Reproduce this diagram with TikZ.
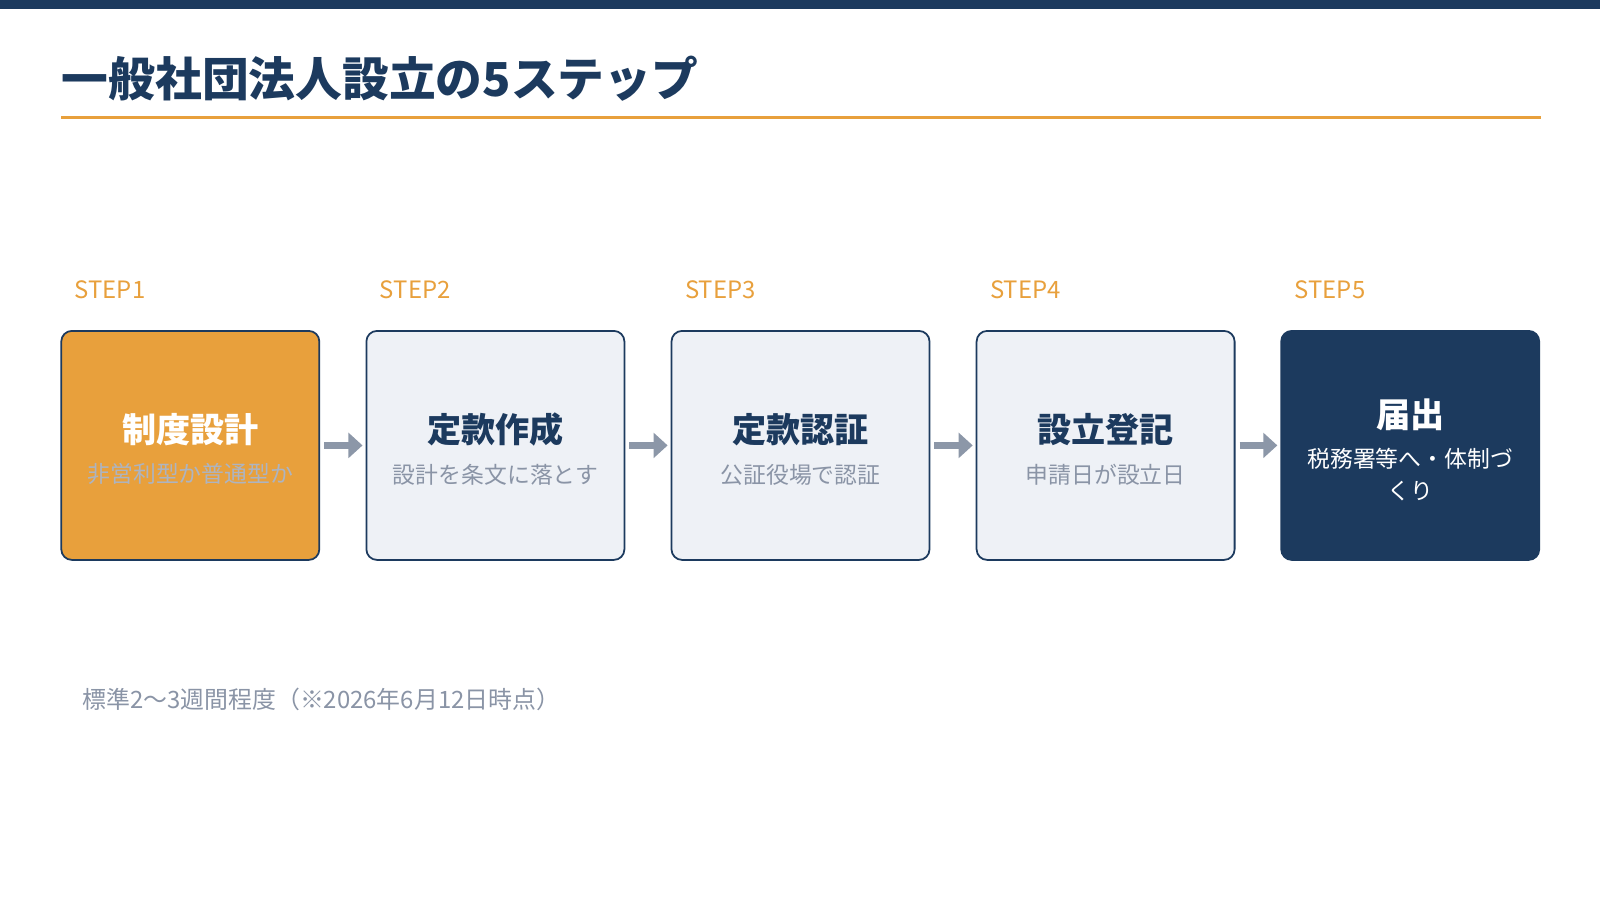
\documentclass[tikz,border=0pt]{standalone}
\usepackage{fontspec}
\setmainfont{Noto Sans CJK JP}
\usetikzlibrary{positioning,arrows.meta}
\definecolor{navy}{HTML}{1C3A5E}
\definecolor{accent}{HTML}{E8A03C}
\definecolor{pale}{HTML}{EEF1F6}
\definecolor{muted}{HTML}{8A94A6}
\definecolor{arrowgray}{HTML}{8C97A8}
\tikzset{
	stepbox/.style={draw=navy, line width=0.5pt, rounded corners=3pt, minimum width=2.58cm, minimum height=2.29cm, inner sep=0pt},
	steplabel/.style={anchor=west, text=accent, font=\fontsize{6.8}{8}\selectfont},
	head/.style={font=\bfseries\fontsize{9.7}{11}\selectfont},
	sub/.style={text=muted, font=\fontsize{6.5}{8}\selectfont},
	flow/.style={arrowgray, line width=1.8pt, -{Triangle[length=4pt,width=7pt]}}
}
\begin{document}
\begin{tikzpicture}
	\useasboundingbox (0,0) rectangle (16,-9);
	\fill[color=white] (0,0) rectangle (16,-9);
	\fill[color=navy] (0,0) rectangle (16,-0.09);
	
	\node[anchor=west, text=navy, font=\bfseries\fontsize{13.3}{15}\selectfont, inner sep=0pt] (title) at (0.612,-0.79) {一般社団法人設立の5ステップ};
	\draw[accent, line width=0.9pt] (0.612,-1.173) -- (15.41,-1.173);
	
	% steps
	\node[stepbox, fill=accent] (s1) at (1.903,-4.454) {};
	\node[stepbox, fill=pale] (s2) at (4.954,-4.454) {};
	\node[stepbox, fill=pale] (s3) at (8.005,-4.454) {};
	\node[stepbox, fill=pale] (s4) at (11.056,-4.454) {};
	\node[stepbox, fill=navy] (s5) at (14.102,-4.454) {};
	
	\foreach \i/\n in {1/s1,2/s2,3/s3,4/s4,5/s5}
		\node[steplabel] at ([xshift=0.02cm, yshift=0.4cm]\n.north west) {STEP\i};
	
	\node[head, text=white] at ([yshift=0.16cm]s1.center) {制度設計};
	\node[sub, text=muted!70!white] at ([yshift=-0.29cm]s1.center) {非営利型か普通型か};
	\node[head, text=navy] at ([yshift=0.16cm]s2.center) {定款作成};
	\node[sub] at ([yshift=-0.29cm]s2.center) {設計を条文に落とす};
	\node[head, text=navy] at ([yshift=0.16cm]s3.center) {定款認証};
	\node[sub] at ([yshift=-0.29cm]s3.center) {公証役場で認証};
	\node[head, text=navy] at ([yshift=0.16cm]s4.center) {設立登記};
	\node[sub] at ([yshift=-0.29cm]s4.center) {申請日が設立日};
	\node[head, text=white] at ([yshift=0.31cm]s5.center) {届出};
	\node[sub, text=white, align=center, font=\fontsize{6.5}{9.2}\selectfont] at ([yshift=-0.29cm]s5.center) {税務署等へ・体制づ\\くり};
	
	% arrows
	\draw[flow] ([xshift=0.04cm]s1.east) -- ([xshift=-0.03cm]s2.west);
	\draw[flow] ([xshift=0.04cm]s2.east) -- ([xshift=-0.03cm]s3.west);
	\draw[flow] ([xshift=0.04cm]s3.east) -- ([xshift=-0.03cm]s4.west);
	\draw[flow] ([xshift=0.04cm]s4.east) -- ([xshift=-0.03cm]s5.west);
	
	\node[anchor=west, text=muted, font=\fontsize{6.8}{8}\selectfont, inner sep=0pt] (note) at (0.816,-6.99) {標準2〜3週間程度（※2026年6月12日時点）};
\end{tikzpicture}
\end{document}
